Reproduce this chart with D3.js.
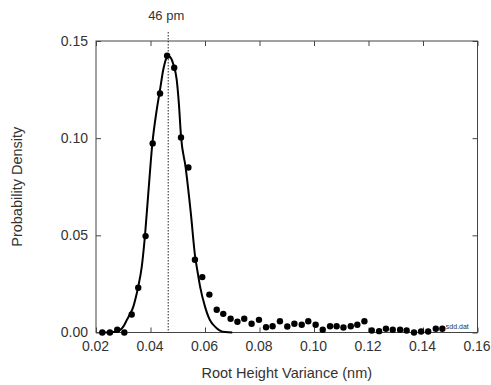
<html>
<head>
    <style>
        body { margin: 0; background: #fff; }
        text { font-family: "Liberation Sans", Arial, sans-serif; fill: #333; }
        .axis path { display: none; }
        .axis line { stroke: #444; }
    </style>
</head>
<body>
<script src="https://d3js.org/d3.v7.min.js"></script>
<script>
    var width = 491, height = 385;
    var margin = {top: 41, right: 13.5, bottom: 52.5, left: 96};

    // measured histogram points (sdd.dat)
    var pointX = [0.0223, 0.0251, 0.0278, 0.0304, 0.0331, 0.0355, 0.0382, 0.0408, 0.0435, 0.0461,
        0.0487, 0.0512, 0.0539, 0.0563, 0.0590, 0.0616, 0.0643, 0.0667, 0.0694, 0.0719,
        0.0744, 0.0771, 0.0798, 0.0824, 0.0848, 0.0875, 0.0902, 0.0928, 0.0955, 0.0979,
        0.1006, 0.1032, 0.1059, 0.1083, 0.1108, 0.1135, 0.1159, 0.1185, 0.1212, 0.1239,
        0.1264, 0.1289, 0.1316, 0.1340, 0.1367, 0.1393, 0.1419, 0.1447, 0.1471];
    var pointY = [0.0000, 0.0000, 0.0014, 0.0000, 0.0093, 0.0230, 0.0496, 0.0973, 0.1230, 0.1424,
        0.1362, 0.1004, 0.0849, 0.0374, 0.0285, 0.0195, 0.0117, 0.0096, 0.0071, 0.0055,
        0.0071, 0.0045, 0.0065, 0.0027, 0.0032, 0.0058, 0.0031, 0.0045, 0.0040, 0.0058,
        0.0040, 0.0014, 0.0032, 0.0032, 0.0026, 0.0032, 0.0040, 0.0058, 0.0010, 0.0007,
        0.0019, 0.0014, 0.0014, 0.0010, 0.0000, 0.0005, 0.0005, 0.0019, 0.0019];

    // fitted curve
    var fitX = [0.0230, 0.0255, 0.0275, 0.0288, 0.0300, 0.0313, 0.0325, 0.0337, 0.0346, 0.0355,
        0.0368, 0.0380, 0.0392, 0.0407, 0.0423, 0.0435, 0.0447, 0.0459, 0.0468, 0.0476,
        0.0484, 0.0496, 0.0504, 0.0512, 0.0529, 0.0548, 0.0563, 0.0573, 0.0582, 0.0600,
        0.0618, 0.0630, 0.0643, 0.0655, 0.0675, 0.0700];
    var fitY = [0.0000, 0.0001, 0.0005, 0.0013, 0.0030, 0.0064, 0.0095, 0.0133, 0.0180, 0.0236,
        0.0339, 0.0503, 0.0718, 0.0975, 0.1147, 0.1250, 0.1353, 0.1413, 0.1422, 0.1410,
        0.1379, 0.1302, 0.1180, 0.1009, 0.0849, 0.0614, 0.0400, 0.0310, 0.0236, 0.0133,
        0.0064, 0.0040, 0.0022, 0.0010, 0.0002, 0.0000];

    var xTicks = [0.02, 0.04, 0.06, 0.08, 0.10, 0.12, 0.14, 0.16];
    var yTicks = [0.00, 0.05, 0.10, 0.15];
    var peakX = 0.0465;
    var peakLabel = "46 pm";

    var svg = d3.select("body").append("svg")
        .attr("width", width)
        .attr("height", height);

    var x = d3.scaleLinear().domain([0.02, 0.16]).range([margin.left, width - margin.right]);
    var y = d3.scaleLinear().domain([0, 0.15]).range([height - margin.bottom, margin.top]);

    var fmt = d3.format(".2f");

    // frame
    svg.append("rect")
        .attr("x", x(0.02)).attr("y", y(0.15))
        .attr("width", x(0.16) - x(0.02))
        .attr("height", y(0) - y(0.15))
        .attr("fill", "none")
        .attr("stroke", "#444")
        .attr("stroke-width", 1);

    svg.append("g").attr("class", "axis")
        .attr("transform", "translate(0," + y(0) + ")")
        .call(d3.axisBottom(x).tickValues(xTicks).tickFormat(fmt).tickSizeInner(-5).tickSizeOuter(0).tickPadding(9))
        .selectAll("text").attr("font-size", 14).attr("dx", "-1");

    svg.append("g").attr("class", "axis")
        .attr("transform", "translate(0," + y(0.15) + ")")
        .call(d3.axisTop(x).tickValues(xTicks).tickFormat("").tickSizeInner(-5).tickSizeOuter(0));

    svg.append("g").attr("class", "axis")
        .attr("transform", "translate(" + x(0.02) + ",0)")
        .call(d3.axisLeft(y).tickValues(yTicks).tickFormat(fmt).tickSizeInner(-5).tickSizeOuter(0).tickPadding(8))
        .selectAll("text").attr("font-size", 14);

    svg.append("g").attr("class", "axis")
        .attr("transform", "translate(" + x(0.16) + ",0)")
        .call(d3.axisRight(y).tickValues(yTicks).tickFormat("").tickSizeInner(-5).tickSizeOuter(0));

    svg.selectAll(".axis text").attr("font-family", "Liberation Sans, Arial, sans-serif").attr("fill", "#333");

    // peak marker
    svg.append("line")
        .attr("x1", x(peakX)).attr("x2", x(peakX))
        .attr("y1", 32).attr("y2", y(0))
        .attr("stroke", "#222")
        .attr("stroke-width", 1)
        .attr("stroke-dasharray", "1.5,1.5");

    svg.append("text")
        .attr("x", x(peakX) - 2).attr("y", 20)
        .attr("text-anchor", "middle")
        .attr("font-size", 13)
        .text(peakLabel);

    // fit curve
    var fitData = fitX.map(function (d, i) { return [d, fitY[i]]; });
    svg.append("path")
        .datum(fitData)
        .attr("fill", "none")
        .attr("stroke", "#000")
        .attr("stroke-width", 2)
        .attr("d", d3.line()
            .x(function (d) { return x(d[0]); })
            .y(function (d) { return y(d[1]); })
            .curve(d3.curveMonotoneX));

    // points
    var pts = pointX.map(function (d, i) { return [d, pointY[i]]; });
    svg.selectAll("circle.pt")
        .data(pts)
        .enter().append("circle")
        .attr("class", "pt")
        .attr("cx", function (d) { return x(d[0]); })
        .attr("cy", function (d) { return y(d[1]); })
        .attr("r", 3.2)
        .attr("fill", "#000");

    svg.append("text")
        .attr("x", x(pointX[pointX.length - 1]) + 3.5)
        .attr("y", y(0) - 4)
        .attr("font-size", 7)
        .attr("fill", "#444")
        .text("sdd.dat");

    // axis titles
    svg.append("text")
        .attr("x", (x(0.02) + x(0.16)) / 2)
        .attr("y", 378)
        .attr("text-anchor", "middle")
        .attr("font-size", 14.5)
        .text("Root Height Variance (nm)");

    svg.append("text")
        .attr("transform", "translate(22," + ((y(0) + y(0.15)) / 2) + ") rotate(-90)")
        .attr("text-anchor", "middle")
        .attr("font-size", 14.5)
        .text("Probability Density");
</script>
</body>
</html>
